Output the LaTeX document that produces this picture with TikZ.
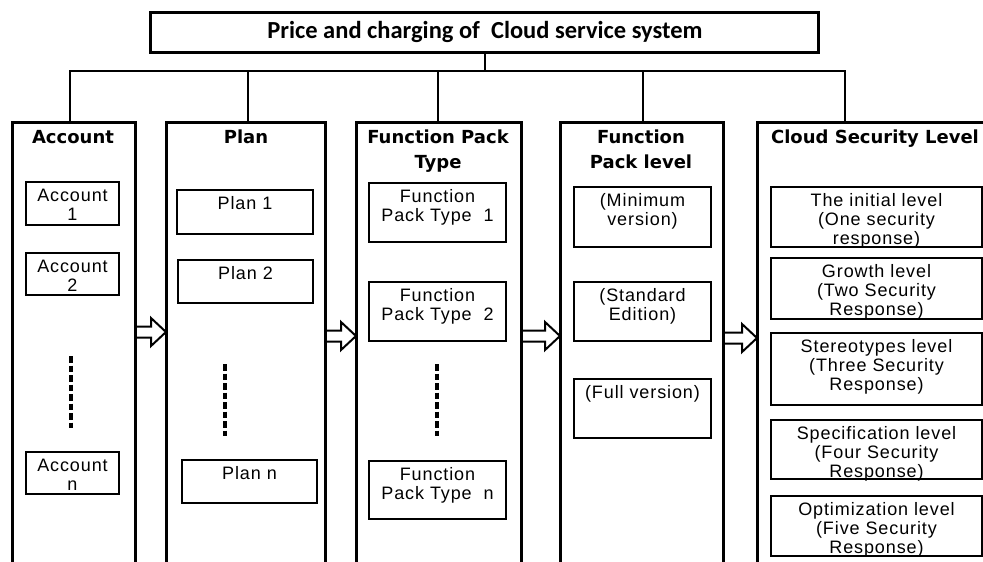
\documentclass[tikz,border=0pt]{standalone}
\usepackage{fontspec}
\setmainfont{Liberation Sans}
\newfontfamily\headfont{DejaVu Sans}
\newfontfamily\titlefont{Carlito}
\newfontfamily\boxfont{Liberation Sans}[LetterSpace=5]
\usetikzlibrary{fit,calc}

% hollow block arrow between two points at the same height
\newcommand\hollowarrow[2]{%
  \draw[blk] let \p1=(#1), \p2=(#2) in
    (\x1,\y1+5.5pt) -- (\x2-15pt,\y1+5.5pt) -- (\x2-15pt,\y1+14pt) --
    (\x2,\y1) -- (\x2-15pt,\y1-14pt) -- (\x2-15pt,\y1-5.5pt) -- (\x1,\y1-5.5pt);}

\begin{document}
\begin{tikzpicture}[x=1pt,y=-1pt,
  col/.style={draw, line width=3pt, inner sep=0pt, outer sep=0pt},
  item/.style={draw, line width=2.6pt, inner sep=0pt, outer sep=0pt},
  itemtxt/.style={font=\boxfont\fontsize{18}{19}\selectfont, align=center,
    inner sep=0pt, anchor=north, yshift=-6.5pt},
  head/.style={font=\headfont\bfseries\fontsize{18}{25}\selectfont,
    align=center, inner sep=0pt, anchor=north},
  link/.style={line width=1.8pt},
  blk/.style={line width=2pt, line join=miter},
  dots/.style={line width=3.4pt, dash pattern=on 6.5pt off 3pt}]

\useasboundingbox (0,0) rectangle (983,562);
\fill[white] (0,0) rectangle (983,562);

% root box
\node[col, fit={(150,12) (818,52)}] (top) {};
\node[inner sep=0pt, font=\titlefont\bfseries\fontsize{24.5}{28}\selectfont]
  (topt) at (485,32) {Price and charging of~ Cloud service system};

% columns (they run past the lower edge of the page)
\node[col, fit={(12,122) (135,600)}]  (cA) {};
\node[col, fit={(166,122) (325,600)}] (cB) {};
\node[col, fit={(356,122) (521,600)}] (cC) {};
\node[col, fit={(560,122) (723,600)}] (cD) {};
\node[col, fit={(757,122) (1010,600)}] (cE) {};

% column headings
\node[head] (hA) at (73,130) {Account};
\node[head] (hB) at (246,130) {Plan};
\node[head] (hC) at (438,130) {Function Pack\\Type};
\node[head] (hD) at (641,130) {Function\\Pack level};
\node[head] (hE) at (875,130) {Cloud Security Level};

% tree connectors: bus with one drop per column
\coordinate (busL) at (70,71);
\coordinate (busB) at (248,71);
\coordinate (busC) at (438,71);
\coordinate (busD) at (643,71);
\coordinate (busR) at (845,71);
\draw[link] (top.south -| topt) -- (topt |- busL);
\draw[link] (cA.north -| busL) -- (busL) -- (busR) -- (cE.north -| busR);
\draw[link] (busB) -- (cB.north -| busB);
\draw[link] (busC) -- (cC.north -| busC);
\draw[link] (busD) -- (cD.north -| busD);

% Account
\node[item, fit={(26,182) (119,225)}] (a1) {};
\node[itemtxt] (a1t) at (a1.north) {Account\\1};
\node[item, fit={(26,253) (119,295)}] (a2) {};
\node[itemtxt] (a2t) at (a2.north) {Account\\2};
\node[item, fit={(26,452) (119,494)}] (an) {};
\node[itemtxt] (ant) at (an.north) {Account\\n};
\draw[dots] (71,356) -- (71,428);

% Plan
\node[item, fit={(177,190) (313,234)}] (p1) {};
\node[itemtxt] (p1t) at (p1.north) {Plan 1};
\node[item, fit={(178,260) (313,303)}] (p2) {};
\node[itemtxt] (p2t) at (p2.north) {Plan 2};
\node[item, fit={(182,460) (317,503)}] (pn) {};
\node[itemtxt] (pnt) at (pn.north) {Plan n};
\draw[dots] (225,364) -- (225,436);

% Function Pack Type
\node[item, fit={(369,183) (506,242)}] (f1) {};
\node[itemtxt] (f1t) at (f1.north) {Function\\Pack Type~~1};
\node[item, fit={(369,282) (506,341)}] (f2) {};
\node[itemtxt] (f2t) at (f2.north) {Function\\Pack Type~~2};
\node[item, fit={(369,461) (506,519)}] (fn) {};
\node[itemtxt] (fnt) at (fn.north) {Function\\Pack Type~~n};
\draw[dots] (437,364) -- (437,436);

% Function Pack level
\node[item, fit={(574,187) (711,247)}] (l1) {};
\node[itemtxt] (l1t) at (l1.north) {(Minimum\\version)};
\node[item, fit={(574,282) (711,341)}] (l2) {};
\node[itemtxt] (l2t) at (l2.north) {(Standard\\Edition)};
\node[item, fit={(574,379) (711,438)}] (l3) {};
\node[itemtxt] (l3t) at (l3.north) {(Full version)};

% Cloud Security Level
\node[item, fit={(771,187) (982,247)}] (s1) {};
\node[itemtxt] (s1t) at (s1.north) {The initial level\\(One security\\response)};
\node[item, fit={(771,258) (982,319)}] (s2) {};
\node[itemtxt] (s2t) at (s2.north) {Growth level\\(Two Security\\Response)};
\node[item, fit={(771,333) (982,405)}] (s3) {};
\node[itemtxt] (s3t) at (s3.north) {Stereotypes level\\(Three Security\\Response)};
\node[item, fit={(771,420) (982,479)}] (s4) {};
\node[itemtxt] (s4t) at (s4.north) {Specification level\\(Four Security\\Response)};
\node[item, fit={(771,496) (982,556)}] (s5) {};
\node[itemtxt] (s5t) at (s5.north) {Optimization level\\(Five Security\\Response)};

% flow arrows between columns
\hollowarrow{cA.east |- 0,332}{cB.west |- 0,332}
\hollowarrow{cB.east |- 0,336}{cC.west |- 0,336}
\hollowarrow{cC.east |- 0,336}{cD.west |- 0,336}
\hollowarrow{cD.east |- 0,338}{cE.west |- 0,338}
\end{tikzpicture}
\end{document}
